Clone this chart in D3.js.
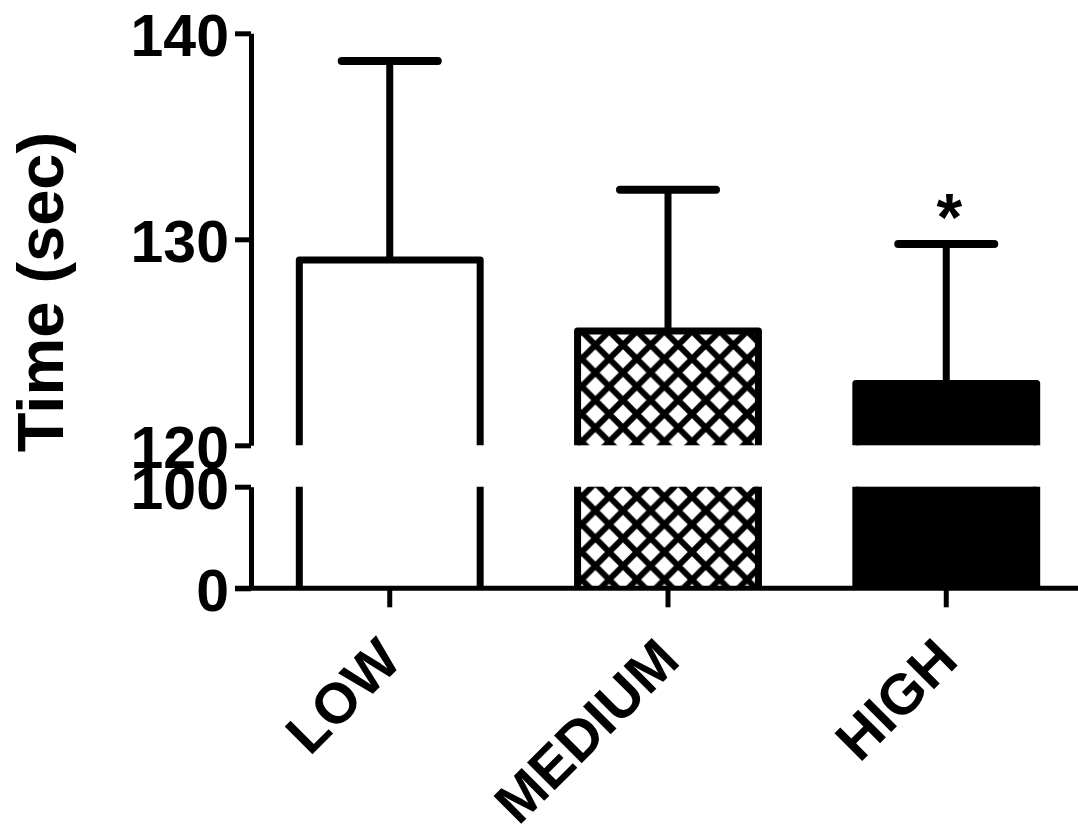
<!DOCTYPE html>
<html>
<head>
<meta charset="utf-8">
<script src="https://cdn.jsdelivr.net/npm/d3@7"></script>
<style>
  body { margin: 0; background: #fff; }
  text { font-family: "Liberation Sans", Arial, sans-serif; font-weight: bold; fill: #000; }
</style>
</head>
<body>
<div id="chart"></div>
<script>
// data
var groups = ["LOW", "MEDIUM", "HIGH"];
var means = [129.0, 125.55, 123.0];
var sds = [9.65, 6.85, 6.77];
var fills = ["white", "hatch", "black"];
var upperTicks = [120, 130, 140];
var lowerTicks = [0, 100];
var signif = ["", "", "*"];

var svgWidth = 1078;
var svgHeight = 837;

var svg = d3.select("#chart")
  .append("svg")
  .attr("width", svgWidth)
  .attr("height", svgHeight);

// hatch pattern for MEDIUM
var defs = svg.append("defs");
var pat = defs.append("pattern")
  .attr("id", "hatch")
  .attr("patternUnits", "userSpaceOnUse")
  .attr("width", 27.6)
  .attr("height", 27.6)
  .attr("x", 2)
  .attr("y", 0);
pat.append("rect").attr("width", 27.6).attr("height", 27.6).attr("fill", "white");
pat.append("path")
  .attr("d", "M-2,-2L29.6,29.6M-2,29.6L29.6,-2")
  .attr("stroke", "black")
  .attr("stroke-width", 6);

function fillOf(f) {
  return f === "hatch" ? "url(#hatch)" : f;
}

// broken y axis: two scales
var yUpper = d3.scaleLinear().domain([120, 140]).range([445.3, 33.3]);
var yLower = d3.scaleLinear().domain([0, 100]).range([588.3, 486.7]);

var axisX = 251;

var x = d3.scaleBand()
  .domain(groups)
  .range([252, 1084])
  .paddingInner(0.35)
  .paddingOuter(0.17);

var barW = x.bandwidth();

groups.forEach(function(g, i) {
  var x0 = x(g), x1 = x(g) + barW;

  // lower segment of bar
  svg.append("rect")
    .attr("x", x0)
    .attr("y", yLower(100))
    .attr("width", barW)
    .attr("height", yLower(0) - yLower(100))
    .attr("fill", fillOf(fills[i]));
  svg.append("path")
    .attr("d", `M${x0},${yLower(100)}V${yLower(0)}M${x1},${yLower(100)}V${yLower(0)}`)
    .attr("stroke", "black")
    .attr("stroke-width", 7)
    .attr("fill", "none");

  // upper segment of bar
  var yt = yUpper(means[i]);
  svg.append("rect")
    .attr("x", x0)
    .attr("y", yt)
    .attr("width", barW)
    .attr("height", yUpper(120) - yt)
    .attr("fill", fillOf(fills[i]));
  svg.append("path")
    .attr("d", `M${x0},${yUpper(120)}V${yt}H${x1}V${yUpper(120)}`)
    .attr("stroke", "black")
    .attr("stroke-width", 7)
    .attr("stroke-linejoin", "round")
    .attr("fill", "none");

  // error bar (upper only)
  var cx = x(g) + barW / 2;
  var ye = yUpper(means[i] + sds[i]);
  svg.append("line")
    .attr("x1", cx).attr("x2", cx)
    .attr("y1", yt).attr("y2", ye)
    .attr("stroke", "black")
    .attr("stroke-width", 7);
  svg.append("line")
    .attr("x1", cx - 48).attr("x2", cx + 48)
    .attr("y1", ye).attr("y2", ye)
    .attr("stroke", "black")
    .attr("stroke-width", 8)
    .attr("stroke-linecap", "round");

  if (signif[i]) {
    svg.append("text")
      .attr("x", cx + 3)
      .attr("y", ye - 4)
      .attr("text-anchor", "middle")
      .attr("font-size", "66px")
      .text(signif[i]);
  }
});

// y axes
function styleAxis(g) {
  g.select(".domain").attr("stroke", "black").attr("stroke-width", 5);
  g.selectAll(".tick line").attr("stroke", "black").attr("stroke-width", 5);
  g.selectAll(".tick text")
    .attr("font-size", "59px")
    .attr("x", -22)
    .attr("dy", "0.37em");
}

svg.append("g")
  .attr("transform", `translate(${axisX},0)`)
  .call(d3.axisLeft(yUpper).tickValues(upperTicks).tickSize(16).tickSizeOuter(0).tickFormat(d3.format("d")))
  .call(styleAxis);

svg.append("g")
  .attr("transform", `translate(${axisX},0)`)
  .call(d3.axisLeft(yLower).tickValues(lowerTicks).tickSize(16).tickSizeOuter(0).tickFormat(d3.format("d")))
  .call(styleAxis);

svg.selectAll("g").attr("font-family", null).attr("font-size", null);

// x axis
svg.append("line")
  .attr("x1", axisX - 16).attr("x2", svgWidth)
  .attr("y1", yLower(0)).attr("y2", yLower(0))
  .attr("stroke", "black")
  .attr("stroke-width", 5);

var xAxis = svg.append("g")
  .attr("transform", `translate(0,${yLower(0)})`)
  .call(d3.axisBottom(x).tickSize(19).tickSizeOuter(0).tickFormat(""));
xAxis.select(".domain").remove();
xAxis.selectAll(".tick line").attr("stroke", "black").attr("stroke-width", 5);

// rotated category labels
groups.forEach(function(g) {
  var cx = x(g) + barW / 2;
  svg.append("text")
    .attr("transform", `translate(${cx + 14},${663}) rotate(-45)`)
    .attr("text-anchor", "end")
    .attr("font-size", "57px")
    .text(g);
});

// y axis title
svg.append("text")
  .attr("transform", "translate(63,292) rotate(-90)")
  .attr("text-anchor", "middle")
  .attr("font-size", "65px")
  .text("Time (sec)");
</script>
</body>
</html>
